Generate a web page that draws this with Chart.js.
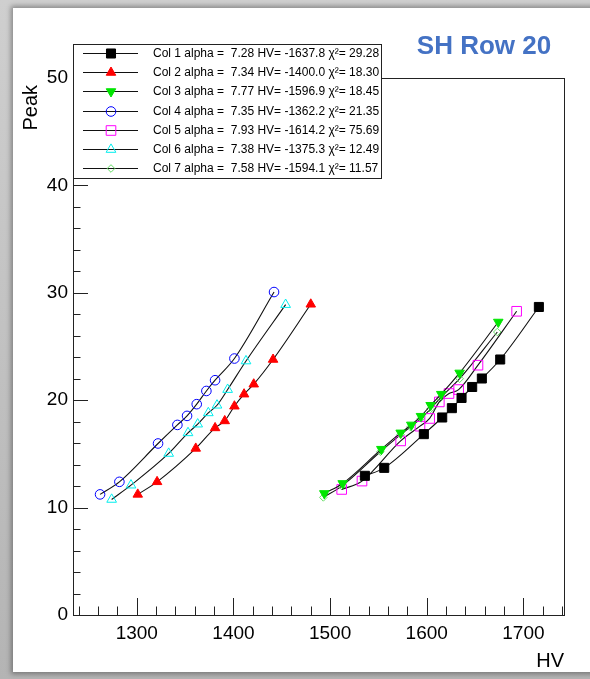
<!DOCTYPE html>
<html>
<head>
<meta charset="utf-8">
<script src="https://cdn.jsdelivr.net/npm/chart.js@4.4.0/dist/chart.umd.min.js"></script>
<style>
  html, body { margin: 0; padding: 0; }
  body { width: 590px; height: 679px; overflow: hidden; position: relative; background: linear-gradient(#cfcfcf, #b4b4b4); }
  #card { position: absolute; left: 13px; top: 8px; width: 600px; height: 664px; background: #fff; box-shadow: 0 0 5px 2px rgba(0,0,0,0.35); }
  #c { position: absolute; left: 0; top: 0; }
</style>
</head>
<body>
<div id="card"></div>
<canvas id="c" width="590" height="679"></canvas>
<script>
// HV scan per column, peak position vs HV
var hv1 = [1536, 1556, 1597, 1616, 1626, 1636, 1647, 1657, 1676, 1716];
var peak1 = [12.96, 13.70, 16.84, 18.39, 19.26, 20.21, 21.23, 22.02, 23.79, 28.68];
var hv2 = [1301, 1321, 1361, 1381, 1391, 1401, 1411, 1421, 1441, 1480];
var peak2 = [11.23, 12.40, 15.51, 17.42, 18.07, 19.44, 20.56, 21.49, 23.79, 28.93];
var hv3 = [1494, 1513, 1553, 1573, 1584, 1594, 1604, 1615, 1634, 1674];
var peak3 = [11.32, 12.25, 15.44, 16.96, 17.70, 18.51, 19.53, 20.56, 22.54, 27.28];
var hv4 = [1262, 1282, 1322, 1342, 1352, 1362, 1372, 1381, 1401, 1442];
var peak4 = [11.23, 12.40, 15.97, 17.70, 18.54, 19.63, 20.86, 21.86, 23.88, 30.07];
var hv5 = [1512, 1533, 1573, 1593, 1603, 1613, 1623, 1633, 1653, 1693];
var peak5 = [11.69, 12.47, 16.21, 17.58, 18.30, 19.84, 20.62, 20.99, 23.26, 28.28];
var hv6 = [1274, 1294, 1333, 1353, 1363, 1374, 1383, 1394, 1413, 1454];
var peak6 = [10.76, 12.09, 15.04, 16.96, 17.77, 18.82, 19.53, 20.99, 23.65, 28.90];
var hv7 = [1493, 1512, 1552, 1573, 1583, 1594, 1604, 1614, 1634, 1673];
var peak7 = [10.95, 12.00, 15.20, 16.80, 17.50, 18.30, 19.20, 20.20, 22.00, 26.35];

// fit results shown in the legend
var colNames = ['Col 1', 'Col 2', 'Col 3', 'Col 4', 'Col 5', 'Col 6', 'Col 7'];
var alphas = ['7.28', '7.34', '7.77', '7.35', '7.93', '7.38', '7.58'];
var hvFit = ['-1637.8', '-1400.0', '-1596.9', '-1362.2', '-1614.2', '-1375.3', '-1594.1'];
var chi2 = ['29.28', '18.30', '18.45', '21.35', '75.69', '12.49', '11.57'];

var xTicks = [1300, 1400, 1500, 1600, 1700];
var yTicks = [0, 10, 20, 30, 40, 50];

var hvs = [hv1, hv2, hv3, hv4, hv5, hv6, hv7];
var peaks = [peak1, peak2, peak3, peak4, peak5, peak6, peak7];

var colors = ['#000000', '#ff0000', '#00e600', '#0000ff', '#ff00ff', '#00eeee', '#66dd66'];
var styles = ['rect', 'triangle', 'triangle', 'circle', 'rect', 'triangle', 'rectRot'];
var rotations = [0, 0, 180, 0, 0, 0, 0];
var filled = [true, true, true, false, false, false, false];
var radii = [6.4, 5.5, 5.5, 4.8, 6.8, 5.6, 3.8];

Chart.defaults.font.family = '"Liberation Sans", Arial, sans-serif';
Chart.defaults.color = '#000';

var datasets = hvs.map(function(h, i){
  return {
    label: colNames[i] + ' alpha =  ' + alphas[i] + ' HV= ' + hvFit[i] + ' \u03c7\u00b2= ' + chi2[i],
    data: h.map(function(v, k){ return {x: v, y: peaks[i][k]}; }),
    showLine: true,
    borderColor: '#111',
    borderWidth: 1.1,
    cubicInterpolationMode: 'monotone',
    pointStyle: styles[i],
    pointRotation: rotations[i],
    pointRadius: radii[i],
    pointBorderWidth: 1,
    pointBorderColor: colors[i],
    pointBackgroundColor: filled[i] ? colors[i] : 'rgba(0,0,0,0)'
  };
});

var rootFrame = {
  id: 'rootFrame',
  beforeDatasetsDraw: function(chart){
    var ctx = chart.ctx, a = chart.chartArea, xs = chart.scales.x, ys = chart.scales.y;
    ctx.save();
    ctx.strokeStyle = '#222';
    ctx.lineWidth = 1;
    ctx.strokeRect(a.left + 0.5, a.top + 0.5, a.right - a.left, a.bottom - a.top);
    ctx.beginPath();
    // x ticks every 20, major every 100 (inside the frame)
    for (var v = Math.ceil(xs.min / 20) * 20; v <= xs.max; v += 20) {
      var x = Math.round(xs.getPixelForValue(v)) + 0.5;
      var len = (v % 100 === 0) ? 17 : 8.5;
      ctx.moveTo(x, a.bottom);
      ctx.lineTo(x, a.bottom - len);
    }
    for (var w = ys.min; w <= ys.max; w += 2) {
      var y = Math.round(ys.getPixelForValue(w)) + 0.5;
      var l = (w % 10 === 0) ? 15 : 7.5;
      ctx.moveTo(a.left, y);
      ctx.lineTo(a.left + l, y);
    }
    ctx.stroke();
    ctx.restore();
  },
  afterDraw: function(chart){
    var ctx = chart.ctx, a = chart.chartArea;
    ctx.save();
    // y axis title, right-aligned near the top of the axis
    ctx.save();
    ctx.translate(37, a.top + 7);
    ctx.rotate(-Math.PI / 2);
    ctx.fillStyle = '#000';
    ctx.font = '20px "Liberation Sans", Arial, sans-serif';
    ctx.textAlign = 'right';
    ctx.textBaseline = 'alphabetic';
    ctx.fillText('Peak', 0, 0);
    ctx.restore();
    // legend box
    ctx.fillStyle = '#fff';
    ctx.fillRect(73, 44, 308, 134);
    ctx.strokeStyle = '#222';
    ctx.lineWidth = 1;
    ctx.strokeRect(73.5, 44.5, 308, 134);
    chart.data.datasets.forEach(function(ds, i){
      var y = Math.round(53 + i * 19.2) + 0.5;
      ctx.beginPath();
      ctx.strokeStyle = '#111';
      ctx.lineWidth = 1.2;
      ctx.moveTo(83, y);
      ctx.lineTo(138, y);
      ctx.stroke();
      ctx.fillStyle = ds.pointBackgroundColor;
      ctx.strokeStyle = ds.pointBorderColor;
      ctx.lineWidth = 1;
      Chart.helpers.drawPoint(ctx, {pointStyle: ds.pointStyle, radius: ds.pointRadius, rotation: ds.pointRotation, borderWidth: 1}, 111, y);
      ctx.fillStyle = '#000';
      ctx.font = '12px "Liberation Sans", Arial, sans-serif';
      ctx.textBaseline = 'middle';
      ctx.textAlign = 'left';
      ctx.fillText(ds.label, 153, y);
    });
    // title
    ctx.fillStyle = '#4472c4';
    ctx.font = 'bold 26px "Liberation Sans", Arial, sans-serif';
    ctx.textAlign = 'center';
    ctx.textBaseline = 'alphabetic';
    ctx.fillText('SH Row 20', 484, 54);
    ctx.restore();
  }
};

new Chart(document.getElementById('c'), {
  type: 'scatter',
  data: { datasets: datasets },
  plugins: [rootFrame],
  options: {
    responsive: false,
    animation: false,
    devicePixelRatio: 1,
    layout: { padding: { top: 78, right: 26, left: 0, bottom: 0 } },
    plugins: { legend: { display: false }, tooltip: { enabled: false } },
    scales: {
      x: {
        type: 'linear',
        min: 1234,
        max: 1742,
        afterFit: function(s){ s.height = 64; },
        afterBuildTicks: function(s){ s.ticks = xTicks.map(function(v){ return {value: v}; }); },
        grid: { display: false, drawTicks: false },
        border: { display: false },
        ticks: { padding: 7, font: { size: 19 }, color: '#000', maxRotation: 0, autoSkip: false,
                 callback: function(v){ return String(v); } },
        title: { display: true, text: 'HV', align: 'end', font: { size: 20 }, color: '#000', padding: { top: 0, bottom: 6 } }
      },
      y: {
        type: 'linear',
        min: 0,
        max: 50,
        afterFit: function(s){ s.width = 73; },
        afterBuildTicks: function(s){ s.ticks = yTicks.map(function(v){ return {value: v}; }); },
        grid: { display: false, drawTicks: false },
        border: { display: false },
        ticks: { padding: 5, font: { size: 19 }, color: '#000', autoSkip: false,
                 callback: function(v){ return String(v); } },
        title: { display: false }
      }
    }
  }
});
</script>
</body>
</html>
